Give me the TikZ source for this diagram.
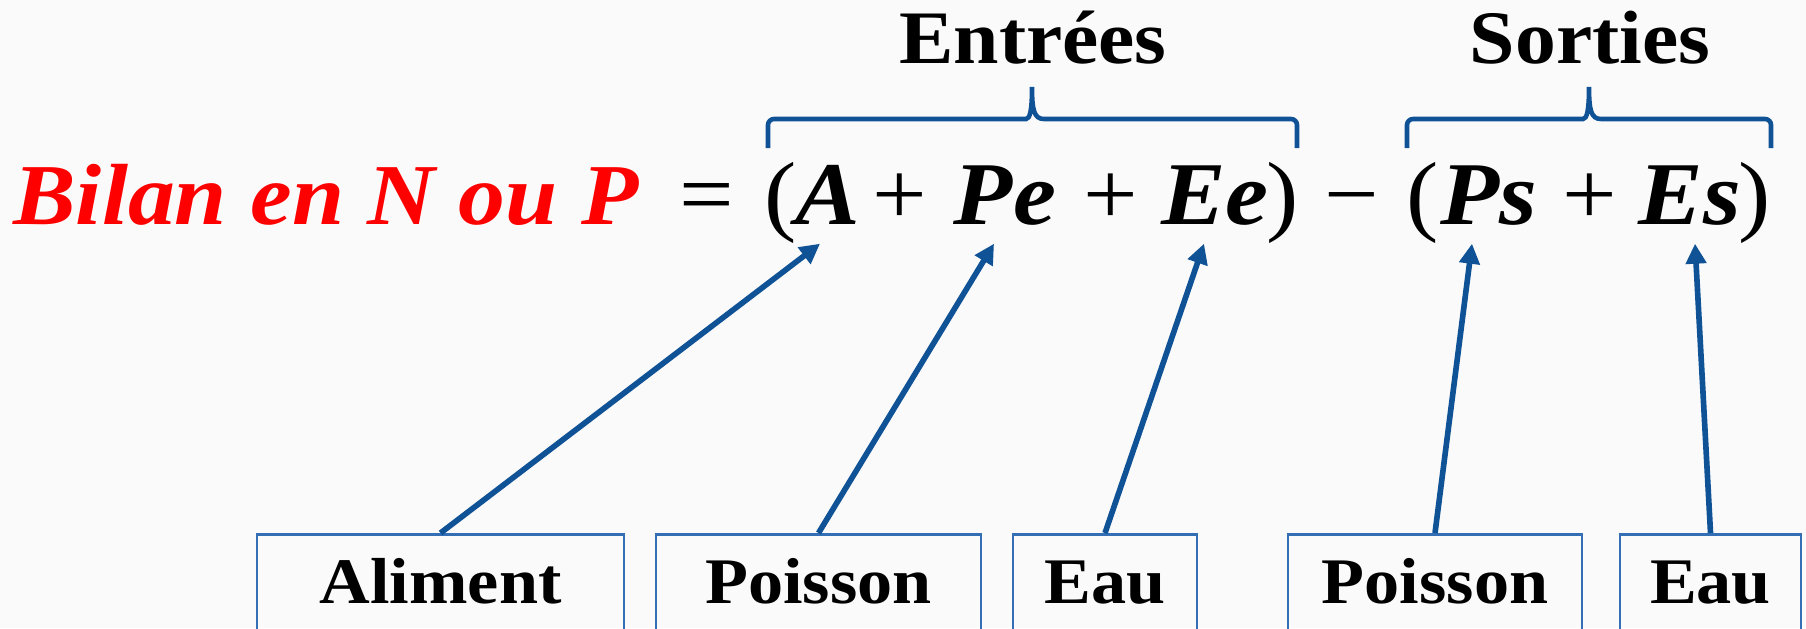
\documentclass[tikz,border=0pt]{standalone}
\usepackage{fontspec}
\setmainfont{Liberation Serif}[FakeStretch=1.08]
\usepackage{tikz}
\usetikzlibrary{arrows.meta,positioning}

\definecolor{bleufleche}{RGB}{16,82,150}
\definecolor{bleuboite}{RGB}{52,110,180}

\begin{document}
\begin{tikzpicture}[
    x=0.1mm, y=-0.1mm,
    terme/.style={font=\fontsize{25.5}{30}\selectfont\bfseries\itshape, anchor=base, inner sep=1.9mm, text depth=0pt},
    signe/.style={font=\fontsize{25.5}{30}\selectfont, anchor=base, inner sep=1.9mm, text depth=0pt},
    boite/.style={draw=bleuboite, line width=0.8pt, anchor=north, inner xsep=0pt, inner ysep=0pt, text height=6.9mm, text depth=10mm, font=\fontsize{18.5}{22}\selectfont\bfseries},
    titre/.style={font=\fontsize{21.5}{26}\selectfont\bfseries, anchor=base},
    fleche/.style={-{Triangle[length=2mm,width=2mm]}, line width=1.6pt, draw=bleufleche},
    accolade/.style={line width=1.3pt, draw=bleufleche}
]

\useasboundingbox (0,0) rectangle (1806,628);
\fill[black!2] (0,0) rectangle (1806,628);
\clip (0,0) rectangle (1806,628);

% equation
\node[terme, text=red, font=\fontsize{24.7}{30}\selectfont\bfseries\itshape] (bilan) at (326,224) {Bilan en N ou P};
\node[signe] (egal) at (707,224) {=};
\node[signe] (parg) at (781,224) {(};
\node[terme] (termA) at (828,224) {A};
\node[signe] (plus1) at (900,224) {+};
\node[terme] (termPe) at (1005,224) {Pe};
\node[signe] (plus2) at (1111,224) {+};
\node[terme] (termEe) at (1215,224) {Ee};
\node[signe] (pard) at (1283,224) {)};
\node[signe] (moins) at (1352,224) {−};
\node[signe] (parg2) at (1423,224) {(};
\node[terme] (termPs) at (1489,224) {Ps};
\node[signe] (plus3) at (1590,224) {+};
\node[terme] (termEs) at (1690,224) {Es};
\node[signe] (pard2) at (1755,224) {)};

% accolades
\node[titre] (entrees) at (1033,63) {Entrées};
\node[titre] (sorties) at (1590,63) {Sorties};
\draw[accolade] (768,148) [rounded corners=0.6mm] |- (1020,119) [sharp corners]
  .. controls (1030,119) and (1032,110) .. (1032,87)
  .. controls (1032,110) and (1034,119) .. (1044,119) [rounded corners=0.6mm] -| (1297,148);
\draw[accolade] (1407,148) [rounded corners=0.6mm] |- (1577,119) [sharp corners]
  .. controls (1587,119) and (1589,110) .. (1589,87)
  .. controls (1589,110) and (1591,119) .. (1601,119) [rounded corners=0.6mm] -| (1771,148);

% boites
\node[boite, minimum width=36.7mm] (aliment) at (440.5,533) {Aliment};
\node[boite, minimum width=32.5mm] (poissonE) at (818.5,533) {Poisson};
\node[boite, minimum width=18.4mm] (eauE) at (1105,533) {Eau};
\node[boite, minimum width=29.4mm] (poissonS) at (1435,533) {Poisson};
\node[boite, minimum width=18.1mm] (eauS) at (1710.5,533) {Eau};

\draw[fleche] (aliment.north) -- ([xshift=-0.8mm]termA.south);
\draw[fleche] (poissonE.north) -- ([xshift=-1.1mm]termPe.south);
\draw[fleche] (eauE.north) -- ([xshift=-1.1mm]termEe.south);
\draw[fleche] (poissonS.north) -- ([xshift=-1.7mm]termPs.south);
\draw[fleche] (eauS.north) -- ([xshift=0.5mm]termEs.south);

\end{tikzpicture}
\end{document}
